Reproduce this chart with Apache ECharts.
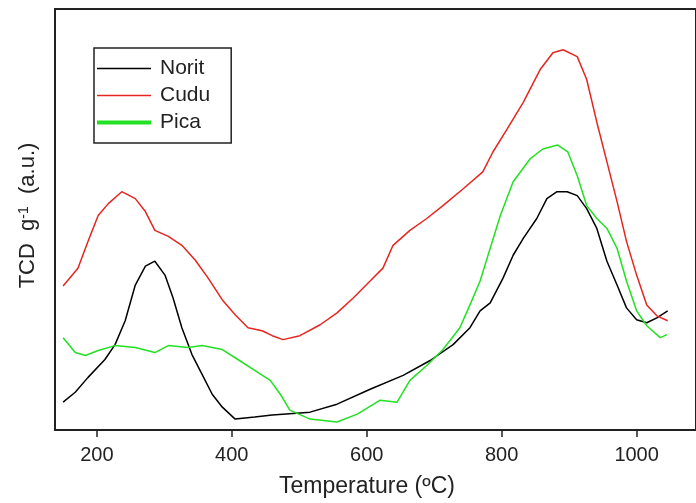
<!DOCTYPE html>
<html>
<head>
<meta charset="utf-8">
<script src="https://cdn.jsdelivr.net/npm/echarts@6/dist/echarts.min.js"></script>
<style>
  html, body { margin: 0; padding: 0; background: #fff; }
  #tpr { width: 696px; height: 503px; }
</style>
</head>
<body>
<div id="tpr"></div>
<script>
// TPR profiles: [temperature ºC, signal a.u.]
const norit = [
  [150, 28], [168, 38], [187, 53], [212, 71], [227, 86], [242, 110], [257, 146],
  [272, 165], [286, 170], [301, 156], [313, 133], [326, 103], [341, 76], [356, 56],
  [371, 36], [386, 23], [405, 11], [434, 13], [460, 15], [516, 18], [556, 26],
  [605, 41], [654, 55], [694, 70], [728, 86], [753, 103], [768, 120], [783, 128],
  [802, 153], [817, 176], [832, 193], [852, 213], [867, 233], [882, 240], [897, 240],
  [912, 236], [926, 223], [941, 203], [956, 170], [971, 146], [985, 123], [1000, 111],
  [1015, 108], [1030, 113], [1046, 120]
];
const cudu = [
  [150, 145], [172, 163], [187, 190], [202, 216], [217, 228], [237, 240], [257, 233],
  [272, 220], [286, 201], [306, 195], [326, 186], [346, 171], [365, 153], [386, 131],
  [405, 116], [424, 103], [445, 100], [460, 95], [476, 91], [501, 95], [531, 106],
  [556, 118], [580, 133], [605, 150], [624, 163], [639, 186], [664, 201], [689, 213],
  [713, 226], [743, 243], [772, 260], [787, 280], [808, 303], [832, 330], [857, 363],
  [876, 380], [891, 383], [912, 376], [926, 353], [941, 310], [956, 270], [971, 230],
  [985, 190], [1000, 156], [1015, 126], [1030, 115], [1046, 110]
];
const pica = [
  [150, 93], [168, 78], [183, 75], [202, 80], [227, 85], [257, 83], [286, 78],
  [306, 85], [335, 83], [356, 85], [386, 81], [409, 71], [434, 60], [457, 50],
  [472, 36], [486, 20], [516, 11], [556, 8], [586, 16], [620, 30], [645, 28],
  [664, 50], [689, 65], [713, 81], [738, 103], [753, 126], [768, 150], [783, 183],
  [798, 216], [817, 250], [842, 273], [861, 283], [883, 287], [898, 280], [912, 256],
  [926, 226], [941, 213], [956, 203], [971, 183], [985, 150], [1000, 120], [1015, 105],
  [1035, 93], [1045, 96]
];
const seriesNames = ["Norit", "Cudu", "Pica"];
const seriesColors = ["#000000", "#e52620", "#22e022"];

const chart = echarts.init(document.getElementById("tpr"));
const font = "Liberation Sans, Arial, sans-serif";

const option = {
  animation: false,
  textStyle: { fontFamily: font },
  grid: {
    left: 55, right: -3, top: 9, bottom: 70,
    show: true, borderColor: "#222", borderWidth: 2
  },
  legend: {
    orient: "vertical",
    left: 94, top: 48,
    padding: [10, 21, 10, 1],
    borderColor: "#222", borderWidth: 1.5,
    itemWidth: 54, itemHeight: 21, itemGap: 6,
    itemStyle: { opacity: 0 },
    textStyle: { fontSize: 21, color: "#222", padding: [0, 0, 0, 4] },
    data: [
      { name: "Norit", lineStyle: { width: 1.5 } },
      { name: "Cudu", lineStyle: { width: 1.5 } },
      { name: "Pica", lineStyle: { width: 4 } }
    ]
  },
  xAxis: {
    type: "value",
    min: 138, max: 1088,
    splitNumber: 5,
    name: "Temperature (ºC)",
    nameLocation: "middle",
    nameGap: 45,
    nameTextStyle: { fontSize: 23, color: "#222", padding: [0, 17, 0, 0] },
    axisLine: { show: false },
    axisTick: { show: true, length: 7, lineStyle: { color: "#222", width: 1.5 } },
    axisLabel: {
      fontSize: 20, color: "#222", margin: 15,
      showMinLabel: false, showMaxLabel: false,
      formatter: (v) => String(v)
    },
    splitLine: { show: false }
  },
  yAxis: {
    type: "value",
    min: 0, max: 424,
    name: "TCD  g{sup|-1}  (a.u.)",
    nameLocation: "middle",
    nameGap: 16,
    nameTextStyle: {
      fontSize: 22, color: "#222", padding: [0, 0, 0, 8],
      rich: { sup: { fontSize: 14, verticalAlign: "top", color: "#222" } }
    },
    axisLine: { show: false },
    axisTick: { show: false },
    axisLabel: { show: false },
    splitLine: { show: false }
  },
  series: [norit, cudu, pica].map((d, i) => ({
    name: seriesNames[i],
    type: "line",
    data: d,
    showSymbol: false,
    symbol: "none",
    color: seriesColors[i],
    lineStyle: { width: 1.5, color: seriesColors[i] }
  }))
};
chart.setOption(option);
</script>
</body>
</html>
